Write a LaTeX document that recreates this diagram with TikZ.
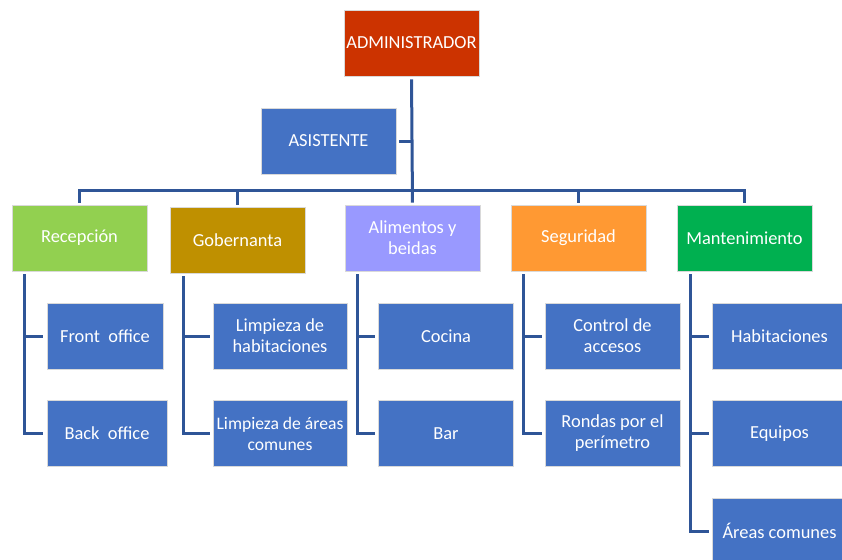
\documentclass[tikz,border=0pt]{standalone}
\usepackage{fontspec}
\setmainfont{Carlito}
\definecolor{adminred}{RGB}{204,51,0}
\definecolor{subblue}{RGB}{68,114,196}
\definecolor{recgreen}{RGB}{146,208,80}
\definecolor{gobgold}{RGB}{191,144,0}
\definecolor{alimviolet}{RGB}{153,153,255}
\definecolor{segorange}{RGB}{255,153,51}
\definecolor{mantgreen}{RGB}{0,176,80}
\definecolor{linkblue}{RGB}{47,85,151}
\begin{document}
\begin{tikzpicture}[x=1pt,y=-1pt,
  box/.style={draw=white!85!black, line width=0.6pt, text=white, inner sep=0pt,
    minimum width=135pt, minimum height=66pt, align=center,
    font=\fontsize{18.4}{21}\selectfont},
  sub/.style={box, fill=subblue},
  conn/.style={draw=linkblue, line width=3pt}]
\useasboundingbox (0,0) rectangle (842,559);
\clip (0,0) rectangle (842,559);

% top of the chart
\node[box, fill=adminred] (admin) at (411.5,43) {ADMINISTRADOR};
\node[sub] (asist) at (328.5,141) {ASISTENTE};

% departments
\node[box, fill=recgreen]   (recep) at (79.5,238)  {Recepción};
\node[box, fill=gobgold]    (gob)   at (237.5,240) {Gobernanta};
\node[box, fill=alimviolet] (alim)  at (412.5,238) {Alimentos y\\beidas};
\node[box, fill=segorange]  (seg)   at (578.5,238) {Seguridad};
\node[box, fill=mantgreen]  (mant)  at (744.5,238) {Mantenimiento};

% sections of each department
\node[sub, minimum width=116pt] (front) at (105,336)   {Front\ \ office};
\node[sub, minimum width=120pt] (back)  at (107,433.5) {Back\ \ office};
\node[sub, minimum width=134pt] (limpa) at (280,336)   {Limpieza de\\habitaciones};
\node[sub, minimum width=134pt, font=\fontsize{17.6}{21}\selectfont] (limpb) at (280,433.5) {Limpieza de áreas\\comunes};
\node[sub] (cocina)  at (446,336)     {Cocina};
\node[sub] (barra)   at (446,433.5)   {Bar};
\node[sub] (control) at (612.5,336)   {Control de\\accesos};
\node[sub] (rondas)  at (612.5,433.5) {Rondas por el\\perímetro};
\node[sub] (habit)   at (779.5,336)   {Habitaciones};
\node[sub] (equip)   at (779.5,433.5) {Equipos};
\node[sub] (areas)   at (779.5,531)   {Áreas comunes};

% trunk, assistant branch and department bar
\coordinate (bar) at (412.5,190);
\draw[conn, shorten <=3pt, shorten >=2pt] (admin.south) -- (alim.north);
\draw[conn, shorten <=3pt] (asist.east) -- (asist.east -| admin.south);
\draw[conn, shorten <=2pt, shorten >=2pt] (recep.north) |- (bar) -| (mant.north);
\draw[conn, shorten >=2pt] (bar -| gob.north) -- (gob.north);
\draw[conn, shorten >=2pt] (bar -| seg.north) -- (seg.north);

% department to section connectors
\coordinate (rtop) at (24,274);
\coordinate (gtop) at (183,276);
\coordinate (atop) at (357,274);
\coordinate (stop) at (523,274);
\coordinate (mtop) at (690,274);
\draw[conn, shorten >=4pt] (rtop) |- (front.west);
\draw[conn, shorten >=4pt] (rtop) |- (back.west);
\draw[conn, shorten >=3pt] (gtop) |- (limpa.west);
\draw[conn, shorten >=3pt] (gtop) |- (limpb.west);
\draw[conn, shorten >=3pt] (atop) |- (cocina.west);
\draw[conn, shorten >=3pt] (atop) |- (barra.west);
\draw[conn, shorten >=3pt] (stop) |- (control.west);
\draw[conn, shorten >=3pt] (stop) |- (rondas.west);
\draw[conn, shorten >=3pt] (mtop) |- (habit.west);
\draw[conn, shorten >=3pt] (mtop) |- (equip.west);
\draw[conn, shorten >=3pt] (mtop) |- (areas.west);
\end{tikzpicture}
\end{document}
